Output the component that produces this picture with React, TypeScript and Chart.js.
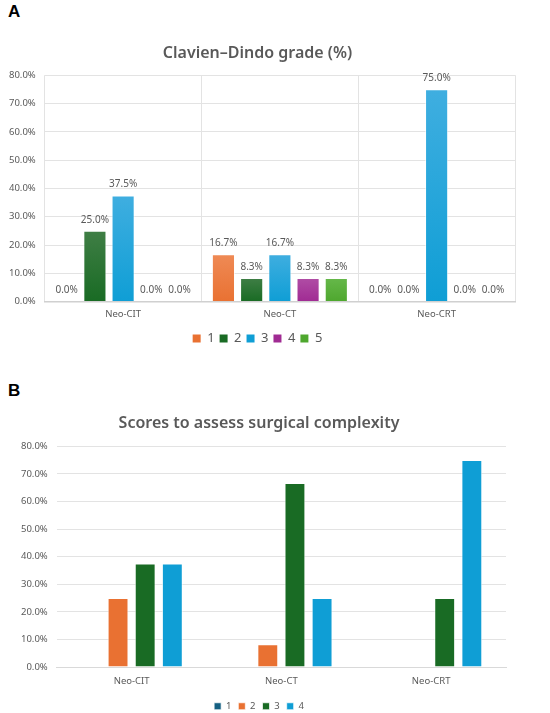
import { useEffect, useRef } from 'react';
import { Chart, registerables } from 'chart.js';

Chart.register(...registerables);

const groups = ['Neo-CIT', 'Neo-CT', 'Neo-CRT'];

// Panel A: Clavien–Dindo grade (%)
const cdGrades = ['1', '2', '3', '4', '5'];
const cdGrade1 = [0, 16.7, 0];
const cdGrade2 = [25, 8.3, 0];
const cdGrade3 = [37.5, 16.7, 75];
const cdGrade4 = [0, 8.3, 0];
const cdGrade5 = [0, 8.3, 0];
const cdColors = ['#E97132', '#196B24', '#0F9ED5', '#A02B93', '#4EA72E'];
const cdLight = ['#EF8A55', '#3F7E45', '#3FAEE0', '#B04DA5', '#66B84A'];

// Panel B: scores to assess surgical complexity
const scLabels = ['1', '2', '3', '4'];
const sc1 = [0, 0, 0];
const sc2 = [25, 8.3, 0];
const sc3 = [37.5, 66.7, 25];
const sc4 = [37.5, 25, 75];
const scColors = ['#156082', '#E97132', '#196B24', '#0F9ED5'];

const yTicks = [0, 10, 20, 30, 40, 50, 60, 70, 80];

const FONT = '"Noto Sans", sans-serif';
const GREY = '#595959';

const valueLabels = {
  id: 'valueLabels',
  afterDatasetsDraw(chart: any) {
    const ctx = chart.ctx;
    ctx.save();
    ctx.font = `10px ${FONT}`;
    ctx.fillStyle = GREY;
    ctx.textAlign = 'center';
    ctx.textBaseline = 'bottom';
    chart.data.datasets.forEach((ds: any, i: number) => {
      const meta = chart.getDatasetMeta(i);
      meta.data.forEach((bar: any, j: number) => {
        const v = ds.data[j];
        ctx.fillText(v.toFixed(1) + '%', bar.x, bar.y - 6);
      });
    });
    ctx.restore();
  },
};

function gradientFill(i: number) {
  return (c: any) => {
    const chart = c.chart;
    const area = chart.chartArea;
    if (!area || c.type !== 'data') return cdColors[i];
    const v = c.raw as number;
    const yScale = chart.scales.y;
    const top = yScale.getPixelForValue(v);
    const bottom = yScale.getPixelForValue(0);
    if (bottom - top < 1) return cdColors[i];
    const g = chart.ctx.createLinearGradient(0, top, 0, bottom);
    g.addColorStop(0, cdLight[i]);
    g.addColorStop(1, cdColors[i]);
    return g;
  };
}

function yAxis(pad: number) {
  return {
    min: 0,
    max: 80,
    afterBuildTicks: (axis: any) => {
      axis.ticks = yTicks.map((v) => ({ value: v }));
    },
    ticks: {
      color: GREY,
      font: { family: FONT, size: 9.5 },
      padding: pad,
      callback: (v: any) => Number(v).toFixed(1) + '%',
    },
    grid: { color: '#E3E3E3', drawTicks: false, tickLength: 0 },
    border: { display: false },
  };
}

function ChartA() {
  const ref = useRef<HTMLCanvasElement>(null);
  useEffect(() => {
    if (!ref.current) return;
    const series = [cdGrade1, cdGrade2, cdGrade3, cdGrade4, cdGrade5];
    const chart = new Chart(ref.current, {
      type: 'bar',
      data: {
        labels: groups,
        datasets: series.map((d, i) => ({
          label: cdGrades[i],
          data: d,
          backgroundColor: gradientFill(i),
          borderColor: 'rgba(255,255,255,0.6)',
          borderWidth: 1,
          categoryPercentage: 0.9,
          barPercentage: 0.82,
        })),
      },
      options: {
        animation: false,
        responsive: true,
        maintainAspectRatio: false,
        layout: { padding: { left: 0, right: 35, top: 0, bottom: 0 } },
        plugins: {
          title: {
            display: true,
            text: 'Clavien–Dindo grade (%)',
            color: GREY,
            font: { family: FONT, size: 16, weight: 600 },
            padding: { top: 19, bottom: 12 },
          },
          legend: {
            position: 'bottom',
            labels: {
              color: GREY,
              font: { family: FONT, size: 13 },
              boxWidth: 8,
              boxHeight: 8,
              padding: 5,
              generateLabels: () =>
                cdGrades.map((g, i) => ({
                  text: g,
                  fillStyle: cdColors[i],
                  strokeStyle: cdColors[i],
                  lineWidth: 0,
                  datasetIndex: i,
                  fontColor: GREY,
                })),
            },
          },
          tooltip: { enabled: false },
        },
        scales: {
          x: {
            ticks: { color: GREY, font: { family: FONT, size: 9.5 }, padding: 7 },
            grid: { color: '#E3E3E3', drawTicks: false, tickLength: 0, offset: true },
            border: { color: '#D0D0D0', width: 1.5 },
          },
          y: yAxis(9),
        },
      },
      plugins: [valueLabels],
    });
    return () => chart.destroy();
  }, []);
  return (
    <div style={{ position: 'absolute', left: 0, top: 25, width: 550, height: 330 }}>
      <canvas ref={ref} />
    </div>
  );
}

function ChartB() {
  const ref = useRef<HTMLCanvasElement>(null);
  useEffect(() => {
    if (!ref.current) return;
    const series = [sc1, sc2, sc3, sc4];
    const chart = new Chart(ref.current, {
      type: 'bar',
      data: {
        labels: groups,
        datasets: series.map((d, i) => ({
          label: scLabels[i],
          data: d,
          backgroundColor: scColors[i],
          borderColor: 'rgba(255,255,255,0.7)',
          borderWidth: 1,
          categoryPercentage: 0.725,
          barPercentage: 0.77,
        })),
      },
      options: {
        animation: false,
        responsive: true,
        maintainAspectRatio: false,
        layout: { padding: { left: 12, right: 44, top: 0, bottom: 0 } },
        plugins: {
          title: {
            display: true,
            text: 'Scores to assess surgical complexity',
            color: GREY,
            font: { family: FONT, size: 16, weight: 600 },
            padding: { top: 6, bottom: 13 },
          },
          legend: {
            position: 'bottom',
            labels: {
              color: GREY,
              font: { family: FONT, size: 9.5 },
              boxWidth: 7,
              boxHeight: 7,
              padding: 7,
            },
          },
          tooltip: { enabled: false },
        },
        scales: {
          x: {
            ticks: { color: GREY, font: { family: FONT, size: 9.5 }, padding: 8 },
            grid: { display: false, drawTicks: false, tickLength: 0 },
            border: { color: '#D9D9D9', width: 1 },
          },
          y: yAxis(9),
        },
      },
    });
    return () => chart.destroy();
  }, []);
  return (
    <div style={{ position: 'absolute', left: 0, top: 408, width: 550, height: 313 }}>
      <canvas ref={ref} />
    </div>
  );
}

export default function App() {
  const letter: any = {
    position: 'absolute',
    fontFamily: '"Liberation Sans", Arial, sans-serif',
    fontWeight: 'bold',
    fontSize: 17,
    color: '#000',
  };
  return (
    <div style={{ position: 'absolute', left: 0, top: 0, width: 550, height: 713, background: '#fff', overflow: 'hidden' }}>
      <div style={{ ...letter, left: 8, top: 2 }}>A</div>
      <div style={{ ...letter, left: 8, top: 381 }}>B</div>
      <ChartA />
      <ChartB />
    </div>
  );
}
